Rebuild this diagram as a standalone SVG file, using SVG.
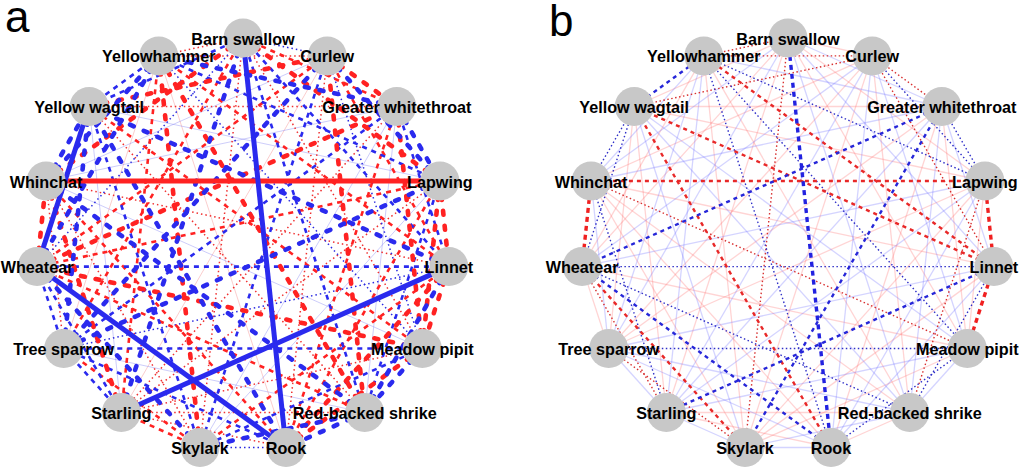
<svg xmlns="http://www.w3.org/2000/svg" width="1020" height="471" viewBox="0 0 1020 471">
<style>
line{fill:none}
.fr{stroke:#f07070;stroke-width:1;stroke-opacity:.35}
.fb{stroke:#7070f0;stroke-width:1;stroke-opacity:.35}
.rT{stroke:#f03030;stroke-width:1.5;stroke-dasharray:1.5 3}
.bT{stroke:#2a2ae0;stroke-width:1.5;stroke-dasharray:1.5 3}
.rM{stroke:#f22;stroke-width:2.6;stroke-dasharray:5 5}
.bM{stroke:#2a2aee;stroke-width:2.6;stroke-dasharray:5 5}
.rD{stroke:#f22;stroke-width:4.6;stroke-dasharray:4 11;stroke-linecap:round}
.bD{stroke:#2a2aee;stroke-width:4.6;stroke-dasharray:4 11;stroke-linecap:round}
.rS{stroke:#f22;stroke-width:5}
.bS{stroke:#2a2aee;stroke-width:5}
.pfr{stroke:#ff7070;stroke-width:1.3;stroke-opacity:.3}
.pfb{stroke:#7070ff;stroke-width:1.3;stroke-opacity:.3}
.prT{stroke:#d83030;stroke-width:1.4;stroke-dasharray:1.5 2.5}
.pbT{stroke:#3030c8;stroke-width:1.4;stroke-dasharray:1.5 2.5}
.prM{stroke:#e82828;stroke-width:2.4;stroke-dasharray:4 4}
.pbM{stroke:#2626d8;stroke-width:2.4;stroke-dasharray:4 4}
.prMt{stroke:#f02020;stroke-width:3.4;stroke-dasharray:5 4}
.pbMt{stroke:#2222e0;stroke-width:3.4;stroke-dasharray:5 4}
.node circle{fill:#c8c8c8}
.node text{font-family:"Liberation Sans",Arial,sans-serif;font-weight:bold;font-size:16.2px;text-anchor:middle;fill:#000}
.plabel{font-family:"Liberation Sans",Arial,sans-serif;font-size:44px;fill:#000}
</style>
<rect width="1020" height="471" fill="#fff"/>
<text class="plabel" x="5" y="32">a</text>
<text class="plabel" x="549" y="35.5">b</text>

<g id="panel-a">
<g id="connectors-a">
<g class="fr">
<line x1="327.2" y1="55.9" x2="121.3" y2="412.5"/>
<line x1="63.7" y1="348.5" x2="158.8" y2="55.9"/>
<line x1="286" y1="447.5" x2="158.8" y2="55.9"/>
</g>
<g class="fb">
<line x1="396.8" y1="106.5" x2="200" y2="447.5"/>
<line x1="422.3" y1="348.5" x2="46.1" y2="181"/>
<line x1="439.9" y1="181" x2="200" y2="447.5"/>
<line x1="364.7" y1="412.5" x2="63.7" y2="348.5"/>
<line x1="121.3" y1="412.5" x2="89.2" y2="106.5"/>
<line x1="327.2" y1="55.9" x2="46.1" y2="181"/>
<line x1="396.8" y1="106.5" x2="364.7" y2="412.5"/>
<line x1="396.8" y1="106.5" x2="46.1" y2="181"/>
<line x1="439.9" y1="181" x2="89.2" y2="106.5"/>
</g>
<g class="rT">
<line x1="243" y1="38" x2="422.3" y2="348.5"/>
<line x1="243" y1="38" x2="200" y2="447.5"/>
<line x1="243" y1="38" x2="158.8" y2="55.9"/>
<line x1="327.2" y1="55.9" x2="286" y2="447.5"/>
<line x1="327.2" y1="55.9" x2="158.8" y2="55.9"/>
<line x1="396.8" y1="106.5" x2="121.3" y2="412.5"/>
<line x1="396.8" y1="106.5" x2="89.2" y2="106.5"/>
<line x1="439.9" y1="181" x2="121.3" y2="412.5"/>
<line x1="448.9" y1="266.6" x2="46.1" y2="181"/>
<line x1="422.3" y1="348.5" x2="121.3" y2="412.5"/>
<line x1="364.7" y1="412.5" x2="121.3" y2="412.5"/>
<line x1="364.7" y1="412.5" x2="89.2" y2="106.5"/>
<line x1="286" y1="447.5" x2="121.3" y2="412.5"/>
<line x1="200" y1="447.5" x2="46.1" y2="181"/>
<line x1="63.7" y1="348.5" x2="46.1" y2="181"/>
</g>
<g class="bT">
<line x1="243" y1="38" x2="327.2" y2="55.9"/>
<line x1="243" y1="38" x2="37.1" y2="266.6"/>
<line x1="327.2" y1="55.9" x2="422.3" y2="348.5"/>
<line x1="448.9" y1="266.6" x2="63.7" y2="348.5"/>
<line x1="422.3" y1="348.5" x2="158.8" y2="55.9"/>
<line x1="286" y1="447.5" x2="200" y2="447.5"/>
</g>
<g class="rM">
<line x1="243" y1="38" x2="396.8" y2="106.5"/>
<line x1="243" y1="38" x2="63.7" y2="348.5"/>
<line x1="327.2" y1="55.9" x2="448.9" y2="266.6"/>
<line x1="327.2" y1="55.9" x2="37.1" y2="266.6"/>
<line x1="396.8" y1="106.5" x2="286" y2="447.5"/>
<line x1="439.9" y1="181" x2="286" y2="447.5"/>
<line x1="439.9" y1="181" x2="37.1" y2="266.6"/>
<line x1="448.9" y1="266.6" x2="200" y2="447.5"/>
<line x1="448.9" y1="266.6" x2="158.8" y2="55.9"/>
<line x1="422.3" y1="348.5" x2="89.2" y2="106.5"/>
<line x1="364.7" y1="412.5" x2="37.1" y2="266.6"/>
<line x1="286" y1="447.5" x2="46.1" y2="181"/>
<line x1="200" y1="447.5" x2="121.3" y2="412.5"/>
<line x1="200" y1="447.5" x2="63.7" y2="348.5"/>
<line x1="121.3" y1="412.5" x2="158.8" y2="55.9"/>
</g>
<g class="bM">
<line x1="243" y1="38" x2="448.9" y2="266.6"/>
<line x1="243" y1="38" x2="364.7" y2="412.5"/>
<line x1="243" y1="38" x2="89.2" y2="106.5"/>
<line x1="327.2" y1="55.9" x2="200" y2="447.5"/>
<line x1="396.8" y1="106.5" x2="448.9" y2="266.6"/>
<line x1="396.8" y1="106.5" x2="63.7" y2="348.5"/>
<line x1="439.9" y1="181" x2="364.7" y2="412.5"/>
<line x1="439.9" y1="181" x2="158.8" y2="55.9"/>
<line x1="448.9" y1="266.6" x2="37.1" y2="266.6"/>
<line x1="422.3" y1="348.5" x2="200" y2="447.5"/>
<line x1="422.3" y1="348.5" x2="63.7" y2="348.5"/>
<line x1="286" y1="447.5" x2="63.7" y2="348.5"/>
<line x1="200" y1="447.5" x2="89.2" y2="106.5"/>
<line x1="121.3" y1="412.5" x2="63.7" y2="348.5"/>
<line x1="121.3" y1="412.5" x2="37.1" y2="266.6"/>
<line x1="63.7" y1="348.5" x2="37.1" y2="266.6"/>
<line x1="89.2" y1="106.5" x2="158.8" y2="55.9"/>
</g>
<g class="rD">
<line x1="243" y1="38" x2="439.9" y2="181"/>
<line x1="243" y1="38" x2="46.1" y2="181"/>
<line x1="327.2" y1="55.9" x2="396.8" y2="106.5"/>
<line x1="327.2" y1="55.9" x2="364.7" y2="412.5"/>
<line x1="327.2" y1="55.9" x2="89.2" y2="106.5"/>
<line x1="396.8" y1="106.5" x2="422.3" y2="348.5"/>
<line x1="396.8" y1="106.5" x2="37.1" y2="266.6"/>
<line x1="439.9" y1="181" x2="448.9" y2="266.6"/>
<line x1="439.9" y1="181" x2="422.3" y2="348.5"/>
<line x1="448.9" y1="266.6" x2="422.3" y2="348.5"/>
<line x1="448.9" y1="266.6" x2="286" y2="447.5"/>
<line x1="422.3" y1="348.5" x2="286" y2="447.5"/>
<line x1="422.3" y1="348.5" x2="37.1" y2="266.6"/>
<line x1="364.7" y1="412.5" x2="158.8" y2="55.9"/>
<line x1="200" y1="447.5" x2="158.8" y2="55.9"/>
<line x1="121.3" y1="412.5" x2="46.1" y2="181"/>
<line x1="37.1" y1="266.6" x2="46.1" y2="181"/>
</g>
<g class="bD">
<line x1="243" y1="38" x2="121.3" y2="412.5"/>
<line x1="327.2" y1="55.9" x2="439.9" y2="181"/>
<line x1="327.2" y1="55.9" x2="63.7" y2="348.5"/>
<line x1="396.8" y1="106.5" x2="439.9" y2="181"/>
<line x1="396.8" y1="106.5" x2="158.8" y2="55.9"/>
<line x1="439.9" y1="181" x2="63.7" y2="348.5"/>
<line x1="448.9" y1="266.6" x2="364.7" y2="412.5"/>
<line x1="448.9" y1="266.6" x2="89.2" y2="106.5"/>
<line x1="422.3" y1="348.5" x2="364.7" y2="412.5"/>
<line x1="364.7" y1="412.5" x2="286" y2="447.5"/>
<line x1="364.7" y1="412.5" x2="200" y2="447.5"/>
<line x1="364.7" y1="412.5" x2="46.1" y2="181"/>
<line x1="286" y1="447.5" x2="89.2" y2="106.5"/>
<line x1="200" y1="447.5" x2="37.1" y2="266.6"/>
<line x1="63.7" y1="348.5" x2="89.2" y2="106.5"/>
<line x1="37.1" y1="266.6" x2="158.8" y2="55.9"/>
<line x1="46.1" y1="181" x2="89.2" y2="106.5"/>
<line x1="46.1" y1="181" x2="158.8" y2="55.9"/>
</g>
<g class="rS">
<line x1="439.9" y1="181" x2="46.1" y2="181"/>
</g>
<g class="bS">
<line x1="243" y1="38" x2="286" y2="447.5"/>
<line x1="448.9" y1="266.6" x2="121.3" y2="412.5"/>
<line x1="286" y1="447.5" x2="37.1" y2="266.6"/>
<line x1="37.1" y1="266.6" x2="89.2" y2="106.5"/>
</g>
</g>
<g id="a-barn-swallow" class="node"><circle cx="243" cy="38" r="19.5"/><text x="243" y="44.5">Barn swallow</text></g>
<g id="a-curlew" class="node"><circle cx="327.2" cy="55.9" r="19.5"/><text x="327.2" y="62.4">Curlew</text></g>
<g id="a-greater-whitethroat" class="node"><circle cx="396.8" cy="106.5" r="19.5"/><text x="396.8" y="113">Greater whitethroat</text></g>
<g id="a-lapwing" class="node"><circle cx="439.9" cy="181" r="19.5"/><text x="439.9" y="187.5">Lapwing</text></g>
<g id="a-linnet" class="node"><circle cx="448.9" cy="266.6" r="19.5"/><text x="448.9" y="273.1">Linnet</text></g>
<g id="a-meadow-pipit" class="node"><circle cx="422.3" cy="348.5" r="19.5"/><text x="422.3" y="355">Meadow pipit</text></g>
<g id="a-red-backed-shrike" class="node"><circle cx="364.7" cy="412.5" r="19.5"/><text x="364.7" y="419">Red-backed shrike</text></g>
<g id="a-rook" class="node"><circle cx="286" cy="447.5" r="19.5"/><text x="286" y="454">Rook</text></g>
<g id="a-skylark" class="node"><circle cx="200" cy="447.5" r="19.5"/><text x="200" y="454">Skylark</text></g>
<g id="a-starling" class="node"><circle cx="121.3" cy="412.5" r="19.5"/><text x="121.3" y="419">Starling</text></g>
<g id="a-tree-sparrow" class="node"><circle cx="63.7" cy="348.5" r="19.5"/><text x="63.7" y="355">Tree sparrow</text></g>
<g id="a-wheatear" class="node"><circle cx="37.1" cy="266.6" r="19.5"/><text x="37.1" y="273.1">Wheatear</text></g>
<g id="a-whinchat" class="node"><circle cx="46.1" cy="181" r="19.5"/><text x="46.1" y="187.5">Whinchat</text></g>
<g id="a-yellow-wagtail" class="node"><circle cx="89.2" cy="106.5" r="19.5"/><text x="89.2" y="113">Yellow wagtail</text></g>
<g id="a-yellowhammer" class="node"><circle cx="158.8" cy="55.9" r="19.5"/><text x="158.8" y="62.4">Yellowhammer</text></g>
</g>

<g id="panel-b" transform="translate(545,0)">
<g id="connectors-b">
<g class="pfr">
<line x1="243" y1="38" x2="327.2" y2="55.9"/>
<line x1="243" y1="38" x2="439.9" y2="181"/>
<line x1="243" y1="38" x2="422.3" y2="348.5"/>
<line x1="243" y1="38" x2="121.3" y2="412.5"/>
<line x1="243" y1="38" x2="37.1" y2="266.6"/>
<line x1="243" y1="38" x2="89.2" y2="106.5"/>
<line x1="327.2" y1="55.9" x2="364.7" y2="412.5"/>
<line x1="327.2" y1="55.9" x2="200" y2="447.5"/>
<line x1="327.2" y1="55.9" x2="63.7" y2="348.5"/>
<line x1="327.2" y1="55.9" x2="46.1" y2="181"/>
<line x1="396.8" y1="106.5" x2="422.3" y2="348.5"/>
<line x1="396.8" y1="106.5" x2="286" y2="447.5"/>
<line x1="396.8" y1="106.5" x2="63.7" y2="348.5"/>
<line x1="396.8" y1="106.5" x2="89.2" y2="106.5"/>
<line x1="439.9" y1="181" x2="422.3" y2="348.5"/>
<line x1="439.9" y1="181" x2="200" y2="447.5"/>
<line x1="439.9" y1="181" x2="63.7" y2="348.5"/>
<line x1="439.9" y1="181" x2="89.2" y2="106.5"/>
<line x1="448.9" y1="266.6" x2="200" y2="447.5"/>
<line x1="448.9" y1="266.6" x2="46.1" y2="181"/>
<line x1="422.3" y1="348.5" x2="200" y2="447.5"/>
<line x1="422.3" y1="348.5" x2="37.1" y2="266.6"/>
<line x1="364.7" y1="412.5" x2="286" y2="447.5"/>
<line x1="364.7" y1="412.5" x2="121.3" y2="412.5"/>
<line x1="364.7" y1="412.5" x2="46.1" y2="181"/>
<line x1="364.7" y1="412.5" x2="158.8" y2="55.9"/>
<line x1="286" y1="447.5" x2="121.3" y2="412.5"/>
<line x1="286" y1="447.5" x2="46.1" y2="181"/>
<line x1="200" y1="447.5" x2="46.1" y2="181"/>
<line x1="200" y1="447.5" x2="158.8" y2="55.9"/>
<line x1="121.3" y1="412.5" x2="89.2" y2="106.5"/>
<line x1="63.7" y1="348.5" x2="37.1" y2="266.6"/>
<line x1="63.7" y1="348.5" x2="89.2" y2="106.5"/>
<line x1="37.1" y1="266.6" x2="158.8" y2="55.9"/>
</g>
<g class="pfb">
<line x1="243" y1="38" x2="396.8" y2="106.5"/>
<line x1="243" y1="38" x2="448.9" y2="266.6"/>
<line x1="243" y1="38" x2="364.7" y2="412.5"/>
<line x1="243" y1="38" x2="63.7" y2="348.5"/>
<line x1="243" y1="38" x2="46.1" y2="181"/>
<line x1="327.2" y1="55.9" x2="422.3" y2="348.5"/>
<line x1="327.2" y1="55.9" x2="286" y2="447.5"/>
<line x1="327.2" y1="55.9" x2="121.3" y2="412.5"/>
<line x1="327.2" y1="55.9" x2="37.1" y2="266.6"/>
<line x1="396.8" y1="106.5" x2="448.9" y2="266.6"/>
<line x1="396.8" y1="106.5" x2="364.7" y2="412.5"/>
<line x1="396.8" y1="106.5" x2="121.3" y2="412.5"/>
<line x1="396.8" y1="106.5" x2="46.1" y2="181"/>
<line x1="396.8" y1="106.5" x2="158.8" y2="55.9"/>
<line x1="439.9" y1="181" x2="286" y2="447.5"/>
<line x1="439.9" y1="181" x2="121.3" y2="412.5"/>
<line x1="439.9" y1="181" x2="37.1" y2="266.6"/>
<line x1="448.9" y1="266.6" x2="286" y2="447.5"/>
<line x1="448.9" y1="266.6" x2="63.7" y2="348.5"/>
<line x1="422.3" y1="348.5" x2="364.7" y2="412.5"/>
<line x1="422.3" y1="348.5" x2="121.3" y2="412.5"/>
<line x1="422.3" y1="348.5" x2="89.2" y2="106.5"/>
<line x1="364.7" y1="412.5" x2="200" y2="447.5"/>
<line x1="364.7" y1="412.5" x2="63.7" y2="348.5"/>
<line x1="364.7" y1="412.5" x2="89.2" y2="106.5"/>
<line x1="286" y1="447.5" x2="200" y2="447.5"/>
<line x1="286" y1="447.5" x2="63.7" y2="348.5"/>
<line x1="200" y1="447.5" x2="121.3" y2="412.5"/>
<line x1="200" y1="447.5" x2="89.2" y2="106.5"/>
<line x1="121.3" y1="412.5" x2="63.7" y2="348.5"/>
<line x1="121.3" y1="412.5" x2="158.8" y2="55.9"/>
<line x1="63.7" y1="348.5" x2="46.1" y2="181"/>
<line x1="63.7" y1="348.5" x2="158.8" y2="55.9"/>
<line x1="46.1" y1="181" x2="158.8" y2="55.9"/>
</g>
<g class="prT">
<line x1="243" y1="38" x2="200" y2="447.5"/>
<line x1="327.2" y1="55.9" x2="89.2" y2="106.5"/>
<line x1="327.2" y1="55.9" x2="396.8" y2="106.5"/>
<line x1="422.3" y1="348.5" x2="46.1" y2="181"/>
<line x1="243" y1="38" x2="158.8" y2="55.9"/>
<line x1="327.2" y1="55.9" x2="448.9" y2="266.6"/>
<line x1="439.9" y1="181" x2="364.7" y2="412.5"/>
<line x1="327.2" y1="55.9" x2="158.8" y2="55.9"/>
<line x1="121.3" y1="412.5" x2="37.1" y2="266.6"/>
<line x1="200" y1="447.5" x2="63.7" y2="348.5"/>
</g>
<g class="pbT">
<line x1="422.3" y1="348.5" x2="158.8" y2="55.9"/>
<line x1="364.7" y1="412.5" x2="37.1" y2="266.6"/>
<line x1="327.2" y1="55.9" x2="439.9" y2="181"/>
<line x1="439.9" y1="181" x2="158.8" y2="55.9"/>
<line x1="396.8" y1="106.5" x2="439.9" y2="181"/>
<line x1="448.9" y1="266.6" x2="364.7" y2="412.5"/>
<line x1="422.3" y1="348.5" x2="286" y2="447.5"/>
<line x1="448.9" y1="266.6" x2="37.1" y2="266.6"/>
<line x1="422.3" y1="348.5" x2="63.7" y2="348.5"/>
<line x1="46.1" y1="181" x2="89.2" y2="106.5"/>
<line x1="37.1" y1="266.6" x2="89.2" y2="106.5"/>
<line x1="286" y1="447.5" x2="158.8" y2="55.9"/>
<line x1="121.3" y1="412.5" x2="46.1" y2="181"/>
</g>
<g class="prM">
<line x1="439.9" y1="181" x2="46.1" y2="181"/>
<line x1="448.9" y1="266.6" x2="158.8" y2="55.9"/>
<line x1="448.9" y1="266.6" x2="89.2" y2="106.5"/>
<line x1="286" y1="447.5" x2="89.2" y2="106.5"/>
<line x1="200" y1="447.5" x2="37.1" y2="266.6"/>
</g>
<g class="pbM">
<line x1="89.2" y1="106.5" x2="158.8" y2="55.9"/>
<line x1="396.8" y1="106.5" x2="37.1" y2="266.6"/>
<line x1="396.8" y1="106.5" x2="200" y2="447.5"/>
<line x1="448.9" y1="266.6" x2="121.3" y2="412.5"/>
<line x1="286" y1="447.5" x2="37.1" y2="266.6"/>
</g>
<g class="prMt">
<line x1="37.1" y1="266.6" x2="46.1" y2="181"/>
<line x1="439.9" y1="181" x2="448.9" y2="266.6"/>
<line x1="448.9" y1="266.6" x2="422.3" y2="348.5"/>
</g>
<g class="pbMt">
<line x1="243" y1="38" x2="286" y2="447.5"/>
</g>
</g>
<g id="b-barn-swallow" class="node"><circle cx="243" cy="38" r="19.5"/><text x="243" y="44.5">Barn swallow</text></g>
<g id="b-curlew" class="node"><circle cx="327.2" cy="55.9" r="19.5"/><text x="327.2" y="62.4">Curlew</text></g>
<g id="b-greater-whitethroat" class="node"><circle cx="396.8" cy="106.5" r="19.5"/><text x="396.8" y="113">Greater whitethroat</text></g>
<g id="b-lapwing" class="node"><circle cx="439.9" cy="181" r="19.5"/><text x="439.9" y="187.5">Lapwing</text></g>
<g id="b-linnet" class="node"><circle cx="448.9" cy="266.6" r="19.5"/><text x="448.9" y="273.1">Linnet</text></g>
<g id="b-meadow-pipit" class="node"><circle cx="422.3" cy="348.5" r="19.5"/><text x="422.3" y="355">Meadow pipit</text></g>
<g id="b-red-backed-shrike" class="node"><circle cx="364.7" cy="412.5" r="19.5"/><text x="364.7" y="419">Red-backed shrike</text></g>
<g id="b-rook" class="node"><circle cx="286" cy="447.5" r="19.5"/><text x="286" y="454">Rook</text></g>
<g id="b-skylark" class="node"><circle cx="200" cy="447.5" r="19.5"/><text x="200" y="454">Skylark</text></g>
<g id="b-starling" class="node"><circle cx="121.3" cy="412.5" r="19.5"/><text x="121.3" y="419">Starling</text></g>
<g id="b-tree-sparrow" class="node"><circle cx="63.7" cy="348.5" r="19.5"/><text x="63.7" y="355">Tree sparrow</text></g>
<g id="b-wheatear" class="node"><circle cx="37.1" cy="266.6" r="19.5"/><text x="37.1" y="273.1">Wheatear</text></g>
<g id="b-whinchat" class="node"><circle cx="46.1" cy="181" r="19.5"/><text x="46.1" y="187.5">Whinchat</text></g>
<g id="b-yellow-wagtail" class="node"><circle cx="89.2" cy="106.5" r="19.5"/><text x="89.2" y="113">Yellow wagtail</text></g>
<g id="b-yellowhammer" class="node"><circle cx="158.8" cy="55.9" r="19.5"/><text x="158.8" y="62.4">Yellowhammer</text></g>
</g>
</svg>
